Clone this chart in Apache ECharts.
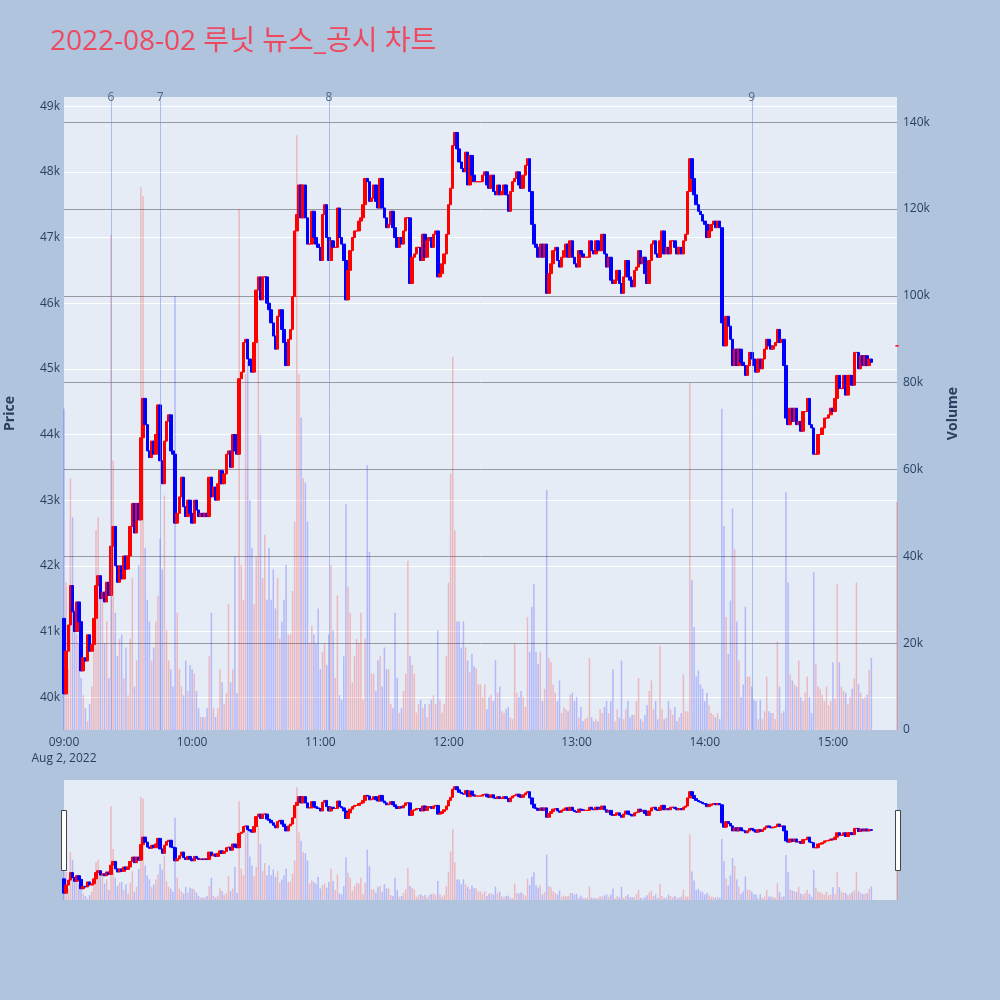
<!DOCTYPE html>
<html>
<head>
<meta charset="utf-8">
<title>루닛 뉴스_공시 차트</title>
<script src="https://cdn.jsdelivr.net/npm/echarts@6/dist/echarts.min.js"></script>
<style>
  html, body { margin: 0; padding: 0; background: #b0c4de; }
  #chart { width: 1000px; height: 1000px; }
</style>
</head>
<body>
<div id="chart"></div>
<script>
// 1-minute bars, 09:00 .. 15:30 (closing auction at 15:30, gap before it)
var dayLabel = 'Aug 2, 2022';
var firstOpen = 41200;

// close price of each minute (open = close of the minute before)
var closes = [
  40050, 40700, 41100, 41700, 41300, 41000, 41450, 41150, 40400, 40600,
  40550, 40950, 40700, 40800, 41200, 41700, 41850, 41500, 41600, 41450,
  41750, 41550, 42300, 42600, 42000, 41750, 42000, 41800, 42150, 41950,
  42150, 42600, 42950, 42500, 42950, 42700, 43950, 44550, 44150, 43750,
  43650, 43900, 43700, 44000, 44450, 43600, 43250, 43900, 44200, 44300,
  43750, 43700, 42650, 42800, 43050, 43350, 42900, 42750, 43000, 42800,
  42650, 43000, 42850, 42750, 42800, 42750, 42800, 42750, 43350, 43050,
  43200, 43000, 43250, 43450, 43250, 43400, 43700, 43750, 43500, 44000,
  43750, 43700, 44850, 44950, 45400, 45450, 45150, 45050, 44950, 45400,
  46200, 46400, 46050, 46400, 46400, 46000, 45900, 45700, 45500, 45300,
  45800, 45900, 45600, 45400, 45050, 45450, 45600, 46100, 47100, 47350,
  47800, 47300, 47800, 47300, 46900, 46900, 47400, 47000, 46900, 46850,
  46650, 47350, 47500, 47000, 46650, 46950, 46850, 46850, 47450, 47000,
  46900, 46650, 46050, 46500, 46800, 47000, 47100, 47100, 47250, 47300,
  47500, 47900, 47850, 47550, 47600, 47800, 47550, 47450, 47900, 47450,
  47300, 47150, 47200, 47400, 47150, 47000, 46850, 47000, 46900, 47100,
  47300, 47300, 46300, 46700, 46750, 46850, 46850, 46650, 47050, 46700,
  46950, 47000, 46850, 47050, 47100, 46400, 46450, 46600, 46750, 47050,
  47500, 47750, 48400, 48600, 48350, 48150, 48050, 48000, 48300, 47800,
  48250, 47950, 47850, 47850, 47850, 47850, 47950, 48000, 47800, 47750,
  47950, 47700, 47650, 47800, 47650, 47700, 47800, 47650, 47400, 47700,
  47850, 47900, 48000, 47800, 47750, 47950, 48100, 48200, 47700, 47200,
  46900, 46850, 46700, 46900, 46700, 46900, 46150, 46450, 46600, 46800,
  46850, 46650, 46550, 46700, 46800, 46900, 46700, 46950, 46700, 46600,
  46550, 46800, 46750, 46700, 46700, 46700, 46950, 46800, 46750, 46950,
  46800, 46800, 47050, 46750, 46550, 46700, 46350, 46300, 46350, 46500,
  46300, 46150, 46400, 46650, 46400, 46350, 46250, 46500, 46550, 46800,
  46600, 46700, 46450, 46300, 46650, 46900, 46950, 46750, 46700, 46950,
  47100, 46750, 46850, 46750, 46950, 46950, 46850, 46750, 46850, 46750,
  46950, 47050, 47700, 48200, 47900, 47650, 47500, 47400, 47350, 47250,
  47200, 47000, 47100, 47200, 47250, 47150, 47250, 47150, 45700, 45350,
  45800, 45650, 45450, 45050, 45300, 45050, 45300, 45100, 45050, 44900,
  45050, 45250, 45150, 45050, 44950, 45150, 45000, 45150, 45300, 45450,
  45350, 45300, 45350, 45400, 45600, 45400, 45450, 45050, 44250, 44150,
  44400, 44200, 44400, 44150, 44200, 44050, 44350, 44350, 44550, 44150,
  44100, 43700, 43700, 44000, 44000, 44100, 44250, 44250, 44300, 44400,
  44350, 44550, 44900, 44700, 44700, 44900, 44600, 44900, 44900, 44750,
  45250, 45250, 45000, 45200, 45050, 45200, 45050, 45150, 45100,
  null, null, null, null, null, null, null, null, null, null, null,
  45350
];

// traded volume of each minute
var volumes = [
  74000, 34000, 14000, 58000, 49000, 28000, 22000, 20000, 12000, 8000,
  5000, 2000, 6000, 10000, 22000, 46000, 49000, 35000, 30000, 20000,
  25000, 12000, 114000, 62000, 27000, 17000, 21000, 22000, 12000, 19000,
  8000, 21000, 35000, 10000, 16000, 38000, 125000, 123000, 42000, 30000,
  25000, 16000, 19000, 25000, 31000, 44000, 37000, 54000, 23000, 16000,
  14000, 10000, 100000, 27000, 14000, 10000, 8000, 16000, 9000, 15000,
  14000, 13000, 9000, 5000, 3000, 3000, 3000, 5000, 17000, 27000,
  5000, 3000, 5000, 14000, 11000, 6000, 8500, 29000, 11000, 14000,
  40000, 8500, 120000, 38000, 30000, 82000, 85000, 53000, 42000, 29000,
  40000, 90000, 68000, 35000, 45000, 30000, 42000, 30000, 37000, 28000,
  35000, 21000, 25000, 30000, 38000, 22000, 22000, 32000, 48000, 137000,
  82000, 72000, 58000, 57000, 48000, 20000, 24000, 22000, 20000, 28000,
  14000, 18000, 20000, 15000, 22000, 38000, 23000, 12000, 31000, 8000,
  7000, 17000, 52000, 33000, 27000, 11000, 17000, 21000, 20000, 27000,
  7000, 21000, 61000, 41000, 13000, 13000, 9000, 16000, 17000, 10000,
  19000, 14000, 14000, 6000, 5000, 27000, 12000, 4000, 5000, 9000,
  13000, 39000, 17000, 15000, 13000, 4000, 6000, 7000, 5000, 6000,
  3000, 6000, 7000, 8000, 6000, 23000, 7000, 4000, 6000, 17000,
  34000, 59000, 86000, 46000, 25000, 25000, 19000, 25000, 19000, 16000,
  13300, 17500, 14700, 14200, 10500, 10500, 7600, 10500, 4800, 7600,
  8100, 6700, 16100, 8600, 10000, 4300, 3900, 4800, 5300, 2900,
  2500, 19900, 8600, 7600, 9000, 7600, 5300, 26000, 18000, 28400,
  33600, 18000, 15200, 18000, 6700, 9500, 55300, 16600, 15600, 10500,
  8600, 6700, 11400, 3900, 5300, 4800, 4300, 8100, 8600, 6700,
  7600, 2900, 5300, 2000, 2500, 2900, 16600, 2900, 2000, 2500,
  2000, 4800, 3900, 5300, 6700, 3900, 6700, 14000, 2000, 4800,
  2900, 16000, 2500, 4800, 6700, 2900, 3500, 3500, 6700, 12000,
  2500, 2000, 3500, 5700, 9000, 11400, 4800, 6700, 2500, 19400,
  4800, 2500, 2900, 6700, 4800, 3500, 5300, 2000, 2900, 3900,
  12800, 4300, 4300, 80000, 34500, 23700, 12300, 13700, 10500, 9500,
  6700, 8600, 5700, 3900, 3500, 2900, 3900, 2500, 74000, 47000,
  26000, 17500, 29800, 51000, 41600, 25000, 16000, 7600, 10500, 28400,
  12300, 12300, 10000, 7000, 6700, 2500, 7000, 2500, 4300, 12300,
  4300, 3900, 3900, 2500, 20400, 10000, 3900, 4300, 54800, 34000,
  12800, 11400, 10500, 10000, 16000, 7600, 6700, 8600, 12300, 7600,
  3900, 36400, 15200, 10000, 9500, 8100, 6700, 10000, 5700, 6700,
  15600, 7200, 33600, 15600, 10000, 9000, 8600, 6000, 7600, 9500,
  11900, 34000, 10500, 8600, 7200, 7600, 8100, 13800, 16600,
  null, null, null, null, null, null, null, null, null, null, null,
  52600
];

// news / disclosure markers (label, minute index)
var newsLabels = ['6', '7', '8', '9'];
var newsIndex = [22, 45, 124, 322];

var times = [];
for (var m = 0; m < closes.length; m++) {
    var h = 9 + Math.floor(m / 60);
    var mm = m % 60;
    times.push((h < 10 ? '0' : '') + h + ':' + (mm < 10 ? '0' : '') + mm);
}

var UP = '#ff0000';
var DOWN = '#0000ff';
var FONT = '"Open Sans", "Noto Sans CJK KR", sans-serif';
var TXT = '#2a3f5f';

var candles = [];
var volBars = [];
for (var i = 0; i < closes.length; i++) {
    var c = closes[i];
    if (c == null) {
        candles.push('-');
        volBars.push('-');
        continue;
    }
    var o = i === 0 ? firstOpen : (closes[i - 1] == null ? c : closes[i - 1]);
    var item = [o, c, Math.min(o, c), Math.max(o, c)];
    if (o === c) {
        // unchanged minute: draw it as an "up" tick like the original
        candles.push({ value: item, itemStyle: { color: UP, color0: UP, borderColor: UP, borderColor0: UP } });
    } else {
        candles.push(item);
    }
    volBars.push({
        value: volumes[i],
        itemStyle: { color: c >= o ? 'rgba(255,0,0,0.22)' : 'rgba(0,0,255,0.22)' }
    });
}

var newsLines = [];
for (var k = 0; k < newsLabels.length; k++) {
    newsLines.push({ xAxis: newsIndex[k], name: newsLabels[k] });
}

var chart = echarts.init(document.getElementById('chart'));

var option = {
    backgroundColor: '#b0c4de',
    animation: false,
    textStyle: { fontFamily: FONT },
    title: {
        text: '2022-08-02 루닛 뉴스_공시 차트',
        left: 45,
        top: 23,
        textStyle: { color: '#ee4a5f', fontSize: 28, fontWeight: 'normal', fontFamily: FONT }
    },
    grid: [
        { left: 64, right: 103, top: 97, height: 633, show: true, backgroundColor: '#e5ecf6', borderWidth: 0, outerBoundsMode: 'none', containLabel: false },
        { left: 64, right: 103, top: 780, height: 120, show: true, backgroundColor: '#e5ecf6', borderWidth: 0, outerBoundsMode: 'none', containLabel: false }
    ],
    xAxis: [
        {
            type: 'category',
            gridIndex: 0,
            data: times,
            boundaryGap: false,
            axisLine: { show: false },
            axisTick: { show: false },
            splitLine: { show: false },
            axisLabel: {
                interval: function (index) { return index % 60 === 0; },
                formatter: function (v, idx) { return idx === 0 ? v + '\n' + dayLabel : v; },
                color: TXT,
                fontSize: 12,
                lineHeight: 16,
                margin: 5,
                fontFamily: FONT
            }
        },
        {
            type: 'category',
            gridIndex: 1,
            data: times,
            boundaryGap: false,
            show: false
        }
    ],
    yAxis: [
        {
            type: 'value',
            gridIndex: 0,
            position: 'left',
            min: 39500,
            max: 49140,
            splitNumber: 9,
            name: 'Price',
            nameLocation: 'middle',
            nameGap: 47,
            nameTextStyle: { color: TXT, fontSize: 14, fontWeight: 'bold', fontFamily: FONT },
            axisLine: { show: false },
            axisTick: { show: false },
            splitLine: { lineStyle: { color: '#ffffff', width: 1 }, showMinLine: false, showMaxLine: false },
            axisLabel: {
                formatter: function (v) { return v % 1000 === 0 ? (v / 1000) + 'k' : ''; },
                color: TXT,
                fontSize: 12,
                margin: 4,
                fontFamily: FONT
            }
        },
        {
            type: 'value',
            gridIndex: 0,
            position: 'right',
            min: 0,
            max: 145800,
            interval: 20000,
            name: 'Volume',
            nameLocation: 'middle',
            nameGap: 49,
            nameTextStyle: { color: TXT, fontSize: 14, fontWeight: 'bold', fontFamily: FONT },
            axisLine: { show: false },
            axisTick: { show: false },
            splitLine: { lineStyle: { color: '#959aa2', width: 1 }, showMinLine: false, showMaxLine: false },
            axisLabel: {
                formatter: function (v) {
                    if (v % 20000 !== 0) return '';
                    return v === 0 ? '0' : (v / 1000) + 'k';
                },
                color: TXT,
                fontSize: 12,
                margin: 6,
                fontFamily: FONT
            }
        },
        { type: 'value', gridIndex: 1, min: 39500, max: 49140, show: false, splitLine: { show: false } },
        { type: 'value', gridIndex: 1, min: 0, max: 145800, show: false, splitLine: { show: false } }
    ],
    series: [
        {
            name: 'Volume',
            type: 'bar',
            xAxisIndex: 0,
            yAxisIndex: 1,
            data: volBars,
            barWidth: 1.5,
            silent: true,
            markLine: {
                silent: true,
                symbol: ['none', 'none'],
                lineStyle: { color: 'rgba(110,140,230,0.5)', width: 1, type: 'solid' },
                label: { show: true, position: 'end', formatter: '{b}', color: '#506784', fontSize: 12, distance: -7, fontFamily: FONT },
                data: newsLines
            }
        },
        {
            name: 'Price',
            type: 'candlestick',
            xAxisIndex: 0,
            yAxisIndex: 0,
            data: candles,
            barWidth: 3,
            itemStyle: { color: UP, color0: DOWN, borderColor: UP, borderColor0: DOWN, borderWidth: 1 }
        },
        {
            type: 'bar',
            xAxisIndex: 1,
            yAxisIndex: 3,
            data: volBars,
            barWidth: 1.5,
            silent: true
        },
        {
            type: 'candlestick',
            xAxisIndex: 1,
            yAxisIndex: 2,
            data: candles,
            barWidth: 3,
            silent: true,
            itemStyle: { color: UP, color0: DOWN, borderColor: UP, borderColor0: DOWN, borderWidth: 1 }
        }
    ],
    graphic: [
        { type: 'rect', left: 61, top: 810, shape: { width: 5, height: 60 }, style: { fill: '#ffffff', stroke: '#444444', lineWidth: 1 }, z: 100 },
        { type: 'rect', left: 895, top: 810, shape: { width: 5, height: 60 }, style: { fill: '#ffffff', stroke: '#444444', lineWidth: 1 }, z: 100 }
    ]
};

chart.setOption(option);
</script>
</body>
</html>
